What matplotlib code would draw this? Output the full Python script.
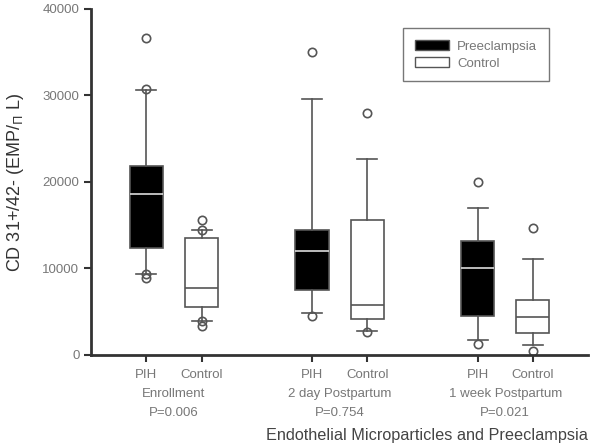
import matplotlib
matplotlib.use("Agg")
import matplotlib.pyplot as plt
from matplotlib.patches import Patch

plt.rcParams['font.family'] = ['Liberation Sans', 'DejaVu Sans']

# box statistics
positions = [1, 2, 4, 5, 7, 8]
tick_labels = ["PIH", "Control", "PIH", "Control", "PIH", "Control"]
medians = [18600, 7700, 12000, 5800, 10100, 4400]
q1 = [12400, 5500, 7500, 4200, 4500, 2500]
q3 = [21800, 13500, 14400, 15600, 13200, 6400]
whislo = [9400, 3900, 4800, 2800, 1700, 1100]
whishi = [30600, 14500, 29600, 22700, 17000, 11100]
fliers = [
    [36600, 30800, 9300, 8900],
    [15600, 14500, 3900, 3400],
    [35000, 4500],
    [28000, 2600],
    [20000, 1300],
    [14700, 500],
]
is_pih = [True, False, True, False, True, False]

group_centers = [1.5, 4.5, 7.5]
group_names = ["Enrollment", "2 day Postpartum", "1 week Postpartum"]
p_values = ["P=0.006", "P=0.754", "P=0.021"]

line_col = "#555555"
text_col = "#777777"

fig = plt.figure(figsize=(6.0, 4.47), dpi=100)
ax = fig.add_axes([0.152, 0.206, 0.828, 0.774])

stats = []
for i in range(len(positions)):
    stats.append(dict(med=medians[i], q1=q1[i], q3=q3[i],
                      whislo=whislo[i], whishi=whishi[i], fliers=fliers[i]))

for i, st in enumerate(stats):
    face = "black" if is_pih[i] else "white"
    med_col = "#dddddd" if is_pih[i] else line_col
    ax.bxp([st], positions=[positions[i]], widths=0.6, patch_artist=True,
           showfliers=True, manage_ticks=False,
           boxprops=dict(facecolor=face, edgecolor=line_col, linewidth=1.2),
           medianprops=dict(color=med_col, linewidth=1.2),
           whiskerprops=dict(color=line_col, linewidth=1.2),
           capprops=dict(color=line_col, linewidth=1.2),
           capwidths=0.36,
           flierprops=dict(marker='o', markersize=6, markerfacecolor='none',
                           markeredgecolor=line_col, markeredgewidth=1.2))

ax.set_xlim(0, 9)
ax.set_ylim(0, 40000)
ax.set_yticks([0, 10000, 20000, 30000, 40000])
ax.set_xticks(positions)
ax.set_xticklabels(tick_labels)

ax.spines['top'].set_visible(False)
ax.spines['right'].set_visible(False)
for s in ('left', 'bottom'):
    ax.spines[s].set_linewidth(2)
    ax.spines[s].set_color("#333333")
ax.tick_params(axis='both', colors="#333333", width=1.5, length=5,
               labelcolor=text_col, labelsize=9.5)
ax.tick_params(axis='x', pad=5)

for xc, name, pv in zip(group_centers, group_names, p_values):
    ax.annotate(name, xy=(xc, 0), xycoords=('data', 'axes fraction'),
                xytext=(0, -23.5), textcoords='offset points',
                ha='center', va='top', fontsize=9.5, color=text_col)
    ax.annotate(pv, xy=(xc, 0), xycoords=('data', 'axes fraction'),
                xytext=(0, -37.5), textcoords='offset points',
                ha='center', va='top', fontsize=9.5, color=text_col)

ax.set_ylabel(r"CD 31+/42- (EMP/$_{\Pi}$ L)", fontsize=13, color="#333333",
              labelpad=12)

fig.text(0.98, 0.025, "Endothelial Microparticles and Preeclampsia",
         ha='right', va='center', fontsize=11.7, color="#444444")

handles = [Patch(facecolor='black', edgecolor=line_col, label='Preeclampsia'),
           Patch(facecolor='white', edgecolor=line_col, label='Control')]
leg = ax.legend(handles=handles, loc='upper right',
                bbox_to_anchor=(0.935, 0.965), fontsize=9.5, fancybox=False,
                handlelength=2.6, handleheight=0.9, labelspacing=0.3,
                borderpad=0.9, handletextpad=0.6, edgecolor="#777777",
                framealpha=1)
for t in leg.get_texts():
    t.set_color(text_col)

fig.savefig("out.png", dpi=100)
